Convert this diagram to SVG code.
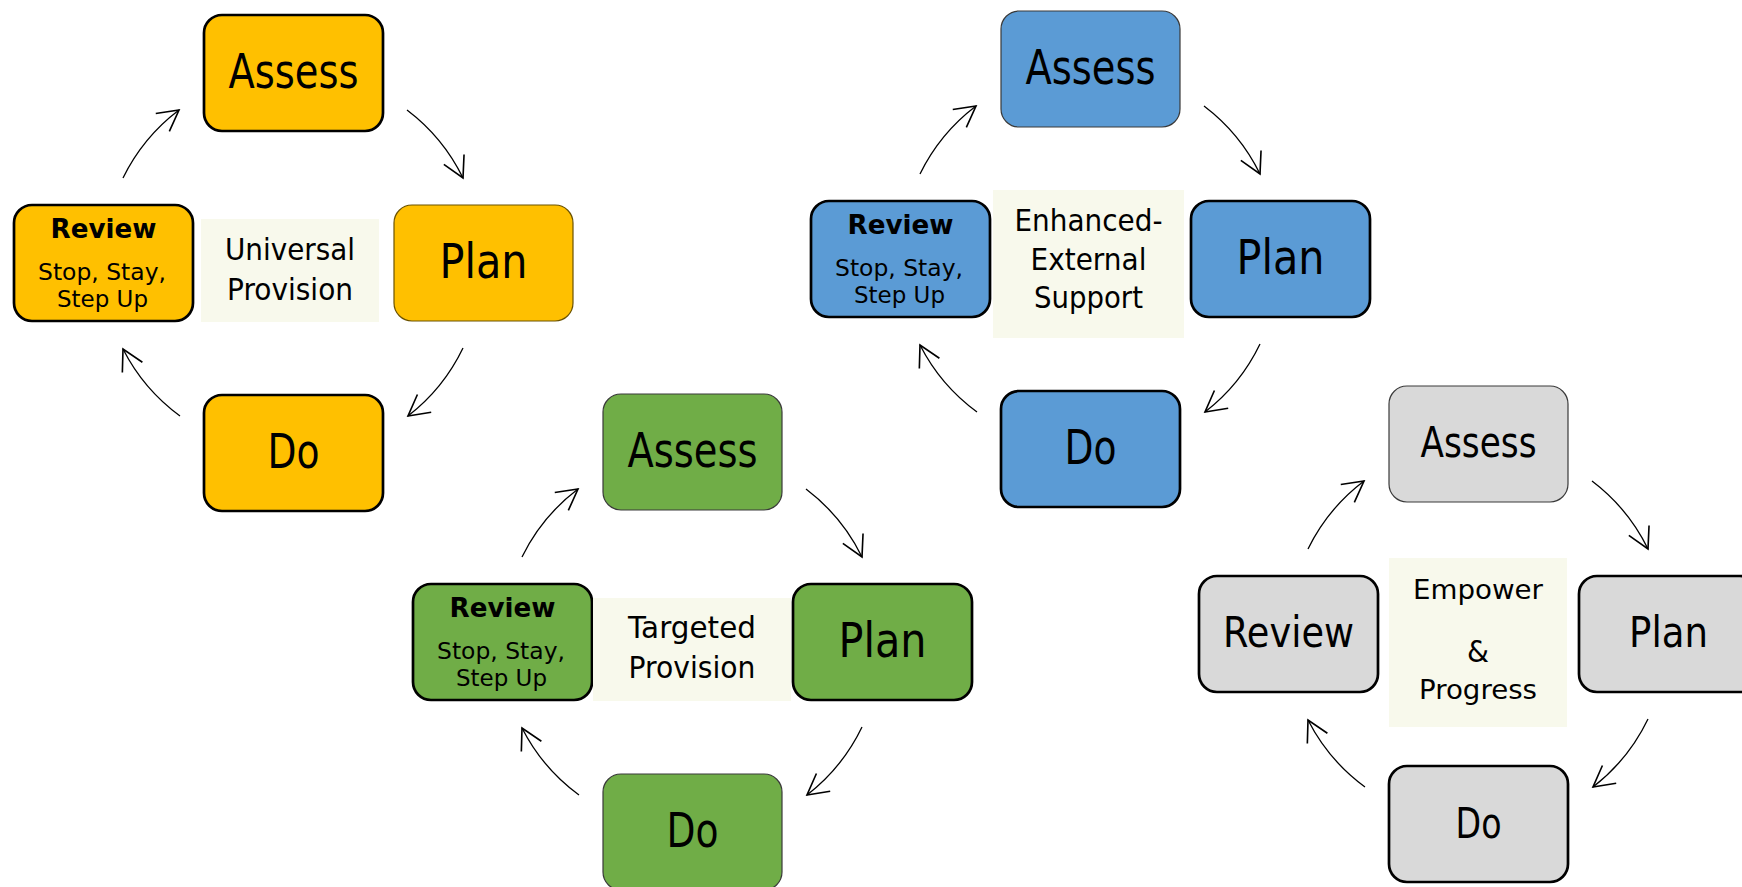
<svg xmlns="http://www.w3.org/2000/svg" width="1742" height="887" viewBox="0 0 1742 887">
<defs>
<style>
.thick{stroke:#000;stroke-width:2.7}
.thin{stroke:#3a3a3a;stroke-width:1.2}
.thinY{stroke:#6b5200;stroke-width:1.2}
.fy{fill:#FFC000}.fg{fill:#70AD47}.fb{fill:#5B9BD5}.fz{fill:#D9D9D9}
.lbl{fill:#F8F9EC}
text{font-family:"DejaVu Sans","Liberation Sans",sans-serif;fill:#000;text-anchor:middle}
.big{font-size:48px}
.bigz{font-size:42px}
.rv{font-size:26px;font-weight:bold}
.sub{font-size:22.5px}
.mid{font-size:31px}
.midz{font-size:27px}
.amp{font-size:31px}
.arr{fill:none;stroke:#000;stroke-width:1.3;marker-end:url(#ah)}
</style>
<marker id="ah" markerUnits="userSpaceOnUse" markerWidth="30" markerHeight="30" refX="0" refY="0" viewBox="-20 -12 24 24" orient="auto" overflow="visible">
<path d="M-16.5,-9 L0,0 L-16.5,9" fill="none" stroke="#000" stroke-width="1.3"/>
</marker>
</defs>

<!-- Yellow cycle -->
<g id="cycle-universal">
<g id="connectors-universal">
<path class="arr" d="M407,110 A190,190 0 0 1 463,178"/>
<path class="arr" d="M463,348 A190,190 0 0 1 408,416"/>
<path class="arr" d="M180,416 A190,190 0 0 1 123,349"/>
<path class="arr" d="M123,178 A190,190 0 0 1 179,110"/>
</g>
<g id="y-assess"><rect class="fy thick" x="204" y="15" width="179" height="116" rx="18"/><text class="big" x="293.5" y="88" textLength="130" lengthAdjust="spacingAndGlyphs">Assess</text></g>
<g id="y-plan"><rect class="fy thinY" x="394" y="205" width="179" height="116" rx="18"/><text class="big" x="483.5" y="278" textLength="88" lengthAdjust="spacingAndGlyphs">Plan</text></g>
<g id="y-do"><rect class="fy thick" x="204" y="395" width="179" height="116" rx="18"/><text class="big" x="293.5" y="468" textLength="52" lengthAdjust="spacingAndGlyphs">Do</text></g>
<g id="y-review"><rect class="fy thick" x="14" y="205" width="179" height="116" rx="18"/>
<text class="rv" x="103.5" y="238" textLength="106" lengthAdjust="spacingAndGlyphs">Review</text>
<text class="sub" x="102" y="280" textLength="128" lengthAdjust="spacingAndGlyphs">Stop, Stay,</text>
<text class="sub" x="102.5" y="307" textLength="91" lengthAdjust="spacingAndGlyphs">Step Up</text></g>
<g id="y-label"><rect class="lbl" x="201" y="219" width="178" height="103"/>
<text class="mid" x="290" y="260" textLength="130" lengthAdjust="spacingAndGlyphs">Universal</text>
<text class="mid" x="290" y="300" textLength="126" lengthAdjust="spacingAndGlyphs">Provision</text></g>
</g>

<!-- Green cycle -->
<g id="cycle-targeted" transform="translate(399,379)">
<g id="connectors-targeted">
<path class="arr" d="M407,110 A190,190 0 0 1 463,178"/>
<path class="arr" d="M463,348 A190,190 0 0 1 408,416"/>
<path class="arr" d="M180,416 A190,190 0 0 1 123,349"/>
<path class="arr" d="M123,178 A190,190 0 0 1 179,110"/>
</g>
<g id="g-assess"><rect class="fg thin" x="204" y="15" width="179" height="116" rx="18"/><text class="big" x="293.5" y="88" textLength="130" lengthAdjust="spacingAndGlyphs">Assess</text></g>
<g id="g-plan"><rect class="fg thick" x="394" y="205" width="179" height="116" rx="18"/><text class="big" x="483.5" y="278" textLength="88" lengthAdjust="spacingAndGlyphs">Plan</text></g>
<g id="g-do"><rect class="fg thin" x="204" y="395" width="179" height="116" rx="18"/><text class="big" x="293.5" y="468" textLength="52" lengthAdjust="spacingAndGlyphs">Do</text></g>
<g id="g-review"><rect class="fg thick" x="14" y="205" width="179" height="116" rx="18"/>
<text class="rv" x="103.5" y="238" textLength="106" lengthAdjust="spacingAndGlyphs">Review</text>
<text class="sub" x="102" y="280" textLength="128" lengthAdjust="spacingAndGlyphs">Stop, Stay,</text>
<text class="sub" x="102.5" y="307" textLength="91" lengthAdjust="spacingAndGlyphs">Step Up</text></g>
<g id="g-label"><rect class="lbl" x="194" y="219" width="198" height="103"/>
<text class="mid" x="293" y="259" textLength="128" lengthAdjust="spacingAndGlyphs">Targeted</text>
<text class="mid" x="293" y="299" textLength="127" lengthAdjust="spacingAndGlyphs">Provision</text></g>
</g>

<!-- Blue cycle -->
<g id="cycle-enhanced" transform="translate(797,-4)">
<g id="connectors-enhanced">
<path class="arr" d="M407,110 A190,190 0 0 1 463,178"/>
<path class="arr" d="M463,348 A190,190 0 0 1 408,416"/>
<path class="arr" d="M180,416 A190,190 0 0 1 123,349"/>
<path class="arr" d="M123,178 A190,190 0 0 1 179,110"/>
</g>
<g id="b-assess"><rect class="fb thin" x="204" y="15" width="179" height="116" rx="18"/><text class="big" x="293.5" y="88" textLength="130" lengthAdjust="spacingAndGlyphs">Assess</text></g>
<g id="b-plan"><rect class="fb thick" x="394" y="205" width="179" height="116" rx="18"/><text class="big" x="483.5" y="278" textLength="88" lengthAdjust="spacingAndGlyphs">Plan</text></g>
<g id="b-do"><rect class="fb thick" x="204" y="395" width="179" height="116" rx="18"/><text class="big" x="293.5" y="468" textLength="52" lengthAdjust="spacingAndGlyphs">Do</text></g>
<g id="b-review"><rect class="fb thick" x="14" y="205" width="179" height="116" rx="18"/>
<text class="rv" x="103.5" y="238" textLength="106" lengthAdjust="spacingAndGlyphs">Review</text>
<text class="sub" x="102" y="280" textLength="128" lengthAdjust="spacingAndGlyphs">Stop, Stay,</text>
<text class="sub" x="102.5" y="307" textLength="91" lengthAdjust="spacingAndGlyphs">Step Up</text></g>
<g id="b-label"><rect class="lbl" x="196" y="194" width="191" height="148"/>
<text class="mid" x="291.5" y="235" textLength="148" lengthAdjust="spacingAndGlyphs">Enhanced-</text>
<text class="mid" x="291.5" y="274" textLength="116" lengthAdjust="spacingAndGlyphs">External</text>
<text class="mid" x="291.5" y="312" textLength="109" lengthAdjust="spacingAndGlyphs">Support</text></g>
</g>

<!-- Grey cycle -->
<g id="cycle-empower" transform="translate(1185,371)">
<g id="connectors-empower">
<path class="arr" d="M407,110 A190,190 0 0 1 463,178"/>
<path class="arr" d="M463,348 A190,190 0 0 1 408,416"/>
<path class="arr" d="M180,416 A190,190 0 0 1 123,349"/>
<path class="arr" d="M123,178 A190,190 0 0 1 179,110"/>
</g>
<g id="z-assess"><rect class="fz thin" x="204" y="15" width="179" height="116" rx="18"/><text class="bigz" x="293.5" y="86" textLength="116" lengthAdjust="spacingAndGlyphs">Assess</text></g>
<g id="z-plan"><rect class="fz thick" x="394" y="205" width="179" height="116" rx="18"/><text class="bigz" x="483.5" y="276" textLength="79" lengthAdjust="spacingAndGlyphs">Plan</text></g>
<g id="z-do"><rect class="fz thick" x="204" y="395" width="179" height="116" rx="18"/><text class="bigz" x="293.5" y="467" textLength="46" lengthAdjust="spacingAndGlyphs">Do</text></g>
<g id="z-review"><rect class="fz thick" x="14" y="205" width="179" height="116" rx="18"/><text class="bigz" x="103.5" y="276" textLength="131" lengthAdjust="spacingAndGlyphs">Review</text></g>
<g id="z-label"><rect class="lbl" x="204" y="187" width="178" height="169"/>
<text class="midz" x="293" y="228" textLength="130" lengthAdjust="spacingAndGlyphs">Empower</text>
<text class="amp" x="293" y="291" textLength="22" lengthAdjust="spacingAndGlyphs">&amp;</text>
<text class="midz" x="293" y="328" textLength="118" lengthAdjust="spacingAndGlyphs">Progress</text></g>
</g>
</svg>
